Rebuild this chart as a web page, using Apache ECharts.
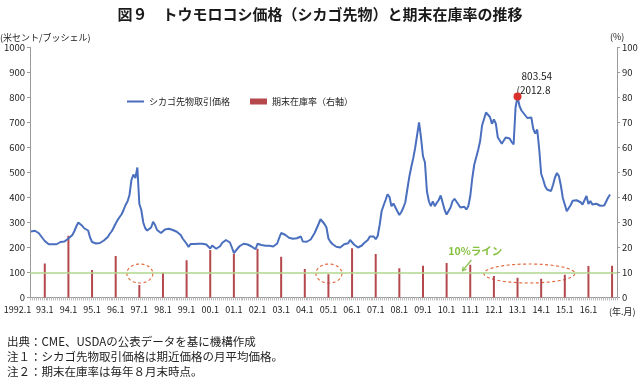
<!DOCTYPE html>
<html><head><meta charset="utf-8">
<script src="https://cdn.jsdelivr.net/npm/echarts@6/dist/echarts.min.js"></script>
<style>html,body{margin:0;padding:0;background:#fff}#c{width:640px;height:380px}</style>
</head><body><div id="c"></div>
<script>
// ---- data ----
const startYear = 1992;
const monthCount = 298;
// Chicago futures monthly average price (US cents / bushel), from 1992.1
const priceCents = [
  264, 266, 267, 262, 257, 254, 236, 226, 219, 213,
  212, 213, 213, 213, 218, 222, 228, 224, 222, 236,
  237, 250, 265, 284, 300, 294, 287, 277, 272, 268,
  240, 222, 218, 216, 214, 218, 222, 228, 235, 242,
  255, 265, 280, 296, 310, 322, 333, 350, 370, 384,
  410, 470, 492, 478, 520, 375, 350, 300, 277, 268,
  272, 280, 303, 290, 270, 262, 258, 262, 272, 277,
  275, 272, 270, 267, 263, 259, 250, 236, 229, 215,
  202, 214, 216, 214, 214, 215, 217, 215, 213, 212,
  210, 196, 208, 200, 195, 193, 205, 218, 225, 230,
  234, 220, 200, 178, 186, 197, 206, 212, 215, 213,
  212, 208, 204, 196, 193, 215, 215, 210, 204, 207,
  208, 207, 206, 204, 208, 216, 238, 258, 262, 251,
  244, 239, 236, 235, 234, 237, 241, 244, 224, 218,
  223, 227, 232, 245, 258, 276, 294, 313, 305, 294,
  280, 236, 223, 214, 208, 203, 201, 200, 208, 213,
  215, 217, 230, 225, 212, 206, 200, 198, 208, 217,
  221, 230, 244, 241, 244, 233, 246, 290, 345, 368,
  390, 413, 402, 365, 376, 368, 345, 330, 342, 359,
  380, 430, 480, 520, 555, 597, 601, 700, 640, 565,
  540, 425, 385, 365, 385, 365, 379, 390, 408, 415,
  350, 332, 327, 360, 385, 395, 392, 372, 360, 362,
  363, 352, 365, 405, 475, 530, 560, 590, 625, 688,
  695, 740, 735, 722, 695, 712, 695, 640, 628, 615,
  618, 640, 648, 636, 622, 612, 760, 803.54, 766, 748,
  740, 728, 718, 710, 720, 674, 656, 672, 594, 495,
  472, 445, 432, 426, 426, 450, 480, 498, 486, 448,
  398, 372, 345, 350, 370, 387, 392, 389, 385, 381,
  372, 365, 406, 374, 386, 372, 378, 375, 372, 367,
  365, 368, 384, 400, 412
];
// ending stocks ratio (%), at end of August each year
const stockYears = [1992,1993,1994,1995,1996,1997,1998,1999,2000,2001,2002,2003,2004,2005,2006,2007,2008,2009,2010,2011,2012,2013,2014,2015,2016];
const stockRatio = [13.6,24.7,11.0,16.6,5.0,9.9,14.9,19.0,17.5,19.5,16.3,11.4,9.3,19.7,17.4,11.7,12.7,13.8,13.1,8.6,7.9,7.5,9.1,12.6,12.7];
const stockMonth = 8;
const xTickLabels = ['1992.1','93.1','94.1','95.1','96.1','97.1','98.1','99.1','00.1','01.1','02.1','03.1','04.1','05.1','06.1','07.1','08.1','09.1','10.1','11.1','12.1','13.1','14.1','15.1','16.1'];
const tenPct = 10;
const priceName = 'シカゴ先物取引価格';
const ratioName = '期末在庫率（右軸）';
const circledGroups = [[1996,1996],[2004,2004],[2011,2014]];
const footnotes = ['出典：CME、USDAの公表データを基に機構作成','注１：シカゴ先物取引価格は期近価格の月平均価格。','注２：期末在庫率は毎年８月末時点。'];

// ---- build ----
const FONT = "'Noto Sans CJK JP', sans-serif";
const categories = [];
for (let k = 0; k < monthCount; k++) {
  categories.push((startYear + Math.floor(k / 12)) + '.' + (k % 12 + 1));
}
const idxOf = (y, m) => (y - startYear) * 12 + (m - 1);
const barData = new Array(monthCount).fill(null);
stockYears.forEach((y, i) => { barData[idxOf(y, stockMonth)] = stockRatio[i]; });
const labelAt = {0: xTickLabels[0]};
for (let j = 1; j < xTickLabels.length; j++) labelAt[idxOf(stockYears[j - 1], stockMonth)] = xTickLabels[j];

let maxIdx = 0;
priceCents.forEach((v, i) => { if (v > priceCents[maxIdx]) maxIdx = i; });
const maxVal = priceCents[maxIdx];

const axisGray = '#9a9a9a';
const lineIcon = 'path://M0,0L17,0L17,0.02L0,0.02Z M0,2.1L17,2.1L17,3.9L0,3.9Z M0,5.98L17,5.98L17,6L0,6Z';
const option = {
  animation: false,
  textStyle: {fontFamily: FONT},
  title: {
    text: '図９　トウモロコシ価格（シカゴ先物）と期末在庫率の推移',
    left: 'center', top: 2,
    textStyle: {fontSize: 15, fontWeight: 'bold', color: '#1a1a1a', fontFamily: FONT}
  },
  legend: {
    left: 122, top: 92, itemWidth: 17, itemHeight: 6, itemGap: 20,
    textStyle: {fontSize: 9, color: '#222', fontFamily: FONT},
    data: [{name: priceName, icon: lineIcon}, {name: ratioName, icon: 'rect'}]
  },
  grid: {left: 30, right: 23, top: 47.5, bottom: 82.5, containLabel: false, outerBoundsMode: 'none'},
  xAxis: {
    type: 'category', data: categories, boundaryGap: true,
    axisLine: {lineStyle: {color: axisGray}},
    axisTick: {show: true, interval: 0, length: 3, lineStyle: {color: '#bdbdbd'}},
    axisLabel: {
      interval: (i) => labelAt.hasOwnProperty(i),
      formatter: (v, i) => i === 0 ? '{first|' + labelAt[0] + '}' : (labelAt[i] || ''),
      rich: {first: {fontSize: 9, color: '#222', fontFamily: FONT, padding: [0, 27, 0, 0]}},
      fontSize: 9, color: '#222', margin: 8, hideOverlap: false
    },
    splitLine: {show: false}
  },
  yAxis: [
    {type: 'value', min: 0, max: 1000, interval: 100,
     axisLine: {show: true, lineStyle: {color: axisGray}},
     axisTick: {show: true, length: 3, lineStyle: {color: axisGray}},
     axisLabel: {fontSize: 9.5, color: '#222', margin: 5, formatter: (v) => String(v)},
     splitLine: {show: false}},
    {type: 'value', min: 0, max: 100, interval: 10, position: 'right',
     axisLine: {show: true, lineStyle: {color: axisGray}},
     axisTick: {show: true, length: 3, lineStyle: {color: axisGray}},
     axisLabel: {fontSize: 9.5, color: '#222', margin: 5, formatter: (v) => String(v)},
     splitLine: {show: false}}
  ],
  series: [
    {name: ratioName, type: 'bar', yAxisIndex: 1, data: barData, barWidth: 2,
     itemStyle: {color: '#b5484d'}, z: 2,
     markLine: {silent: true, symbol: ['none', 'none'], label: {show: false},
       lineStyle: {color: '#b2d78e', width: 1.5, type: 'solid'},
       data: [{yAxis: tenPct}]}},
    {name: priceName, type: 'line', yAxisIndex: 0, data: priceCents, symbol: 'none',
     lineStyle: {color: '#4a6fbe', width: 2}, itemStyle: {color: '#4a6fbe'}, z: 3,
     markPoint: {symbol: 'circle', symbolSize: 8, itemStyle: {color: '#d9302c'},
       label: {show: false}, data: [{coord: [maxIdx, maxVal]}]}}
  ]
};
const chart = echarts.init(document.getElementById('c'));
chart.setOption(option);

// ---- annotations positioned from the axes ----
const px = (i) => chart.convertToPixel({xAxisIndex: 0}, i);
const pyR = (v) => chart.convertToPixel({yAxisIndex: 1}, v);
const pyL = (v) => chart.convertToPixel({yAxisIndex: 0}, v);
const g = [];
const txt = (x, y, text, size, extra) => Object.assign({type: 'text', x: x, y: y, silent: true,
  style: Object.assign({text: text, fontSize: size, fill: '#222', fontFamily: FONT, verticalAlign: 'middle', align: 'left'}, extra || {})});

const y10 = pyR(tenPct);
circledGroups.forEach(([a, b]) => {
  const xa = px(idxOf(a, stockMonth)), xb = px(idxOf(b, stockMonth));
  const cx = (xa + xb) / 2 + (a === b ? 0.5 : 0);
  const rx = a === b ? 13 : (xb - xa) / 2 + 10;
  const ry = 9.5, cy = y10 + 1;
  const pts = [];
  for (let t = 0; t <= 72; t++) { const a2 = t / 72 * Math.PI * 2; pts.push([cx + rx * Math.cos(a2), cy + ry * Math.sin(a2)]); }
  g.push({type: 'polyline', silent: true, shape: {points: pts},
    style: {stroke: '#e36b3f', lineWidth: 1.2, lineDash: [3, 2.5], fill: null}});
});

// 10% line label with arrow
const tipX = px(idxOf(2010, 4)), tipY = y10 - 1.5;
const tailX = tipX + 9, tailY = tipY - 11;
g.push({type: 'line', silent: true, shape: {x1: tailX, y1: tailY, x2: tipX, y2: tipY}, style: {stroke: '#8cc152', lineWidth: 1.2}});
const ang = Math.atan2(tipY - tailY, tipX - tailX);
[0.5, -0.5].forEach(d => {
  g.push({type: 'line', silent: true, shape: {x1: tipX, y1: tipY, x2: tipX - 4.5 * Math.cos(ang + d), y2: tipY - 4.5 * Math.sin(ang + d)}, style: {stroke: '#8cc152', lineWidth: 1.2}});
});
g.push(txt(tipX - 14, tipY - 20, tenPct + '%ライン', 10.5, {fill: '#86c03e', fontWeight: 'bold'}));

// max annotation
const mx = px(maxIdx), my = pyL(maxVal);
g.push(txt(mx + 4, my - 20, String(maxVal), 10));
g.push(txt(mx - 1, my - 6, '(' + categories[maxIdx], 10));

// axis units
g.push(txt(0, 38, '(米セント/ブッシェル)', 9));
g.push(txt(610, 37, '(%)', 9));
g.push(txt(609, 312, '(年.月)', 9));

// footnotes
[341.5, 357, 372].forEach((y, i) => g.push(txt(7, y, footnotes[i], 11.5)));

chart.setOption({graphic: g});
</script>
</body></html>
